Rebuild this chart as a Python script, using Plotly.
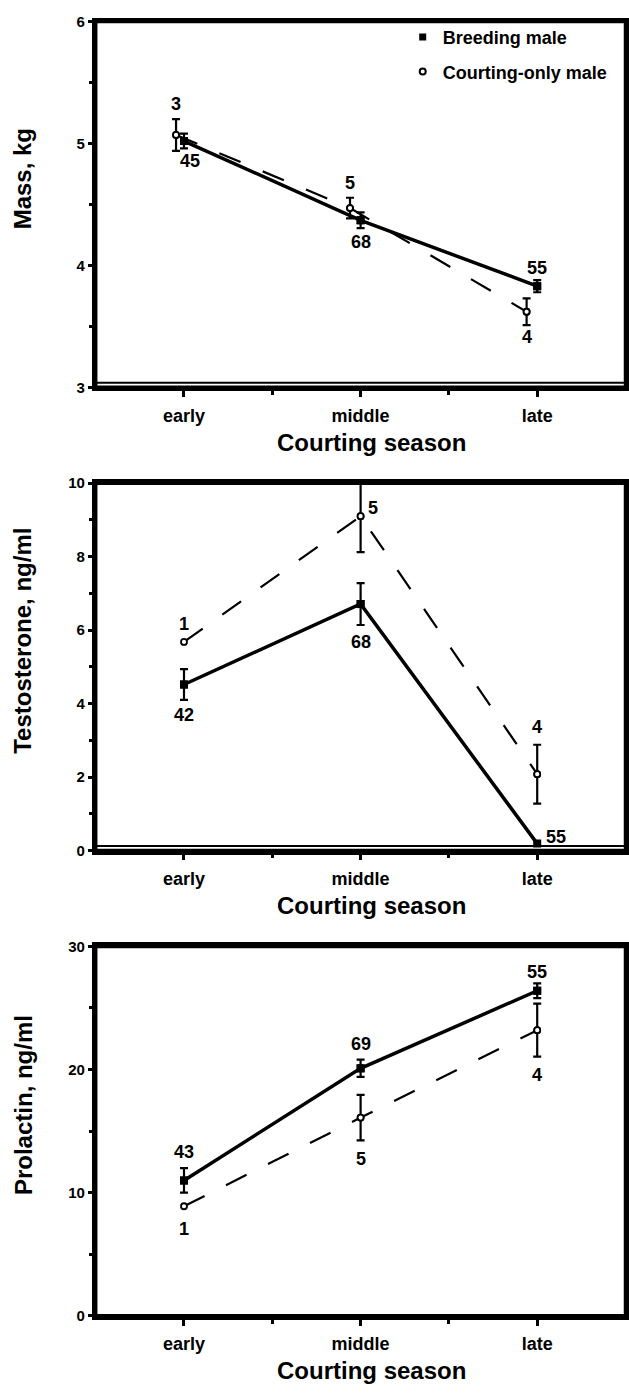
import plotly.graph_objects as go

# ---------------- data ----------------
categories = ["early", "middle", "late"]
cat_x = [0, 1, 2]

# Mass, kg
mass_breeding = [5.02, 4.37, 3.83]
mass_breeding_err = [0.06, 0.065, 0.05]
mass_courting = [5.07, 4.47, 3.62]
mass_courting_err = [0.13, 0.085, 0.11]
mass_n_breeding = ["45", "68", "55"]
mass_n_courting = ["3", "5", "4"]

# Testosterone, ng/ml
testo_breeding = [4.52, 6.71, 0.19]
testo_breeding_err = [0.42, 0.57, 0.0]
testo_courting = [5.68, 9.10, 2.08]
testo_courting_err = [0.0, 0.98, 0.80]
testo_n_breeding = ["42", "68", "55"]
testo_n_courting = ["1", "5", "4"]

# Prolactin, ng/ml
prl_breeding = [11.0, 20.1, 26.4]
prl_breeding_err = [1.0, 0.7, 0.6]
prl_courting = [8.9, 16.1, 23.2]
prl_courting_err = [0.0, 1.85, 2.15]
prl_n_breeding = ["43", "69", "55"]
prl_n_courting = ["1", "5", "4"]

# small horizontal displacement of courting-only points
mass_courting_dx = [-0.045, -0.06, -0.06]
zero_dx = [0.0, 0.0, 0.0]

# ---------------- style ----------------
FONT = "Liberation Sans, Arial, Helvetica, sans-serif"
W, H = 629, 1393
X0, X1 = 96, 627.5

panels = [
    dict(title="Mass, kg", yrange=[3, 6], dtick=1, minor=0.5, top=12.7, bot=383,
         b=mass_breeding, be=mass_breeding_err, c=mass_courting, ce=mass_courting_err,
         cdx=mass_courting_dx, nb=mass_n_breeding, nc=mass_n_courting,
         nb_off=[(6, -20), (0, -22), (0, 18)], nc_off=[(0, 31), (0, 25), (0, -25)],
         double=True),
    dict(title="Testosterone, ng/ml", yrange=[0, 10], dtick=2, minor=1, top=480, bot=852,
         b=testo_breeding, be=testo_breeding_err, c=testo_courting, ce=testo_courting_err,
         cdx=zero_dx, nb=testo_n_breeding, nc=testo_n_courting,
         nb_off=[(0, -30), (0, -38), (19, 7)], nc_off=[(0, 18), (12, 8), (0, 47)],
         double=True),
    dict(title="Prolactin, ng/ml", yrange=[0, 30], dtick=10, minor=5, top=949, bot=1323,
         b=prl_breeding, be=prl_breeding_err, c=prl_courting, ce=prl_courting_err,
         cdx=zero_dx, nb=prl_n_breeding, nc=prl_n_courting,
         nb_off=[(0, 28), (0, 24), (0, 19)], nc_off=[(0, -23), (0, -41), (0, -45)],
         double=False),
]

fig = go.Figure()
annotations = []
shapes = []
layout = {}

bold = dict(family=FONT, color="black", weight="bold")
circle_marker = dict(symbol="circle", size=6, color="white", line=dict(color="black", width=1.8))
square_marker = dict(symbol="square", size=8, color="black")

for i, p in enumerate(panels):
    sfx = "" if i == 0 else str(i + 1)
    xa, ya = "x" + sfx, "y" + sfx
    cx = [x + d for x, d in zip(cat_x, p["cdx"])]

    # courting-only male: error bars (only where an error exists)
    idx = [k for k, e in enumerate(p["ce"]) if e > 0]
    fig.add_trace(go.Scatter(
        x=[cx[k] for k in idx], y=[p["c"][k] for k in idx], mode="markers",
        marker=circle_marker,
        error_y=dict(type="data", array=[p["ce"][k] for k in idx], color="black", thickness=2.2, width=4),
        xaxis=xa, yaxis=ya, showlegend=False, hoverinfo="skip"))
    # courting-only male: line + markers
    fig.add_trace(go.Scatter(
        x=cx, y=p["c"], mode="lines+markers",
        line=dict(color="black", width=2.2, dash="23px,24px"),
        marker=circle_marker,
        xaxis=xa, yaxis=ya, showlegend=False))
    # breeding male: error bars
    idx = [k for k, e in enumerate(p["be"]) if e > 0]
    fig.add_trace(go.Scatter(
        x=[cat_x[k] for k in idx], y=[p["b"][k] for k in idx], mode="markers",
        marker=square_marker,
        error_y=dict(type="data", array=[p["be"][k] for k in idx], color="black", thickness=2.2, width=4),
        xaxis=xa, yaxis=ya, showlegend=False, hoverinfo="skip"))
    # breeding male: line + markers
    fig.add_trace(go.Scatter(
        x=cat_x, y=p["b"], mode="lines+markers",
        line=dict(color="black", width=3.5),
        marker=square_marker,
        xaxis=xa, yaxis=ya, showlegend=False))

    # n labels
    for k in range(3):
        dx, dy = p["nb_off"][k]
        annotations.append(dict(x=cat_x[k], y=p["b"][k], xref=xa, yref=ya, text=p["nb"][k],
                                showarrow=False, xshift=dx, yshift=dy, font=dict(size=18, **bold)))
        dx, dy = p["nc_off"][k]
        annotations.append(dict(x=cx[k], y=p["c"][k], xref=xa, yref=ya, text=p["nc"][k],
                                showarrow=False, xshift=dx, yshift=dy, font=dict(size=18, **bold)))

    # axis titles
    annotations.append(dict(x=23 / W, xref="paper", y=0.5, yref=ya + " domain", yshift=26,
                            text=p["title"], textangle=-90, showarrow=False,
                            xanchor="center", yanchor="middle", font=dict(size=24, **bold)))
    annotations.append(dict(x=0.5, xref=xa + " domain", xshift=11, y=0, yref=ya + " domain",
                            yshift=-55, text="Courting season", showarrow=False,
                            xanchor="center", yanchor="middle", font=dict(size=24, **bold)))

    # heavy frame around the plot area
    shapes.append(dict(type="rect", xref=xa + " domain", yref=ya + " domain",
                       x0=0, x1=1, y0=0, y1=1, line=dict(color="black", width=3.5),
                       fillcolor="rgba(0,0,0,0)", layer="above"))
    if p["double"]:
        shapes.append(dict(type="line", xref=xa + " domain", x0=0, x1=1, yref=ya,
                           ysizemode="pixel", yanchor=p["yrange"][0], y0=4.5, y1=4.5,
                           line=dict(color="black", width=2)))

    layout["xaxis" + sfx] = dict(
        domain=[X0 / W, X1 / W], anchor=ya, range=[-0.5, 2.5],
        tickmode="array", tickvals=cat_x, ticktext=categories,
        ticks="outside", ticklen=6, tickwidth=2.5, tickcolor="black",
        tickfont=dict(size=18, **bold), ticklabelstandoff=3,
        minor=dict(tickvals=[0.5, 1.5], ticks="outside", ticklen=4, tickwidth=2.5, tickcolor="black"),
        showline=True, linecolor="black", linewidth=3.5, mirror=True,
        showgrid=False, zeroline=False)
    layout["yaxis" + sfx] = dict(
        domain=[1 - p["bot"] / H, 1 - p["top"] / H], anchor=xa, range=p["yrange"],
        dtick=p["dtick"], tick0=0,
        ticks="outside", ticklen=4, tickwidth=2.5, tickcolor="black",
        tickfont=dict(size=15, **bold),
        minor=dict(dtick=p["minor"], tick0=0, ticks="outside", ticklen=3, tickwidth=2.5, tickcolor="black"),
        showline=True, linecolor="black", linewidth=3.5, mirror=True,
        showgrid=False, zeroline=False)

# legend entries
fig.add_trace(go.Scatter(x=[None], y=[None], mode="markers", name="Breeding male",
                         marker=dict(symbol="square", size=7, color="black"),
                         legendgroup="b"))
fig.add_trace(go.Scatter(x=[None], y=[None], mode="markers", name="Courting-only male",
                         marker=dict(symbol="circle", size=6, color="white", line=dict(color="black", width=2)),
                         legendgroup="c"))

fig.update_layout(
    width=W, height=H, margin=dict(l=0, r=0, t=0, b=0),
    paper_bgcolor="white", plot_bgcolor="white",
    font=dict(family=FONT, color="black"),
    showlegend=True,
    legend=dict(x=404 / W, y=1 - 10 / H, xanchor="left", yanchor="top",
                font=dict(size=18, **bold), bgcolor="rgba(0,0,0,0)",
                tracegroupgap=8, itemwidth=30, traceorder="grouped"),
    annotations=annotations, shapes=shapes,
    **layout)

fig.write_html("out.html")
